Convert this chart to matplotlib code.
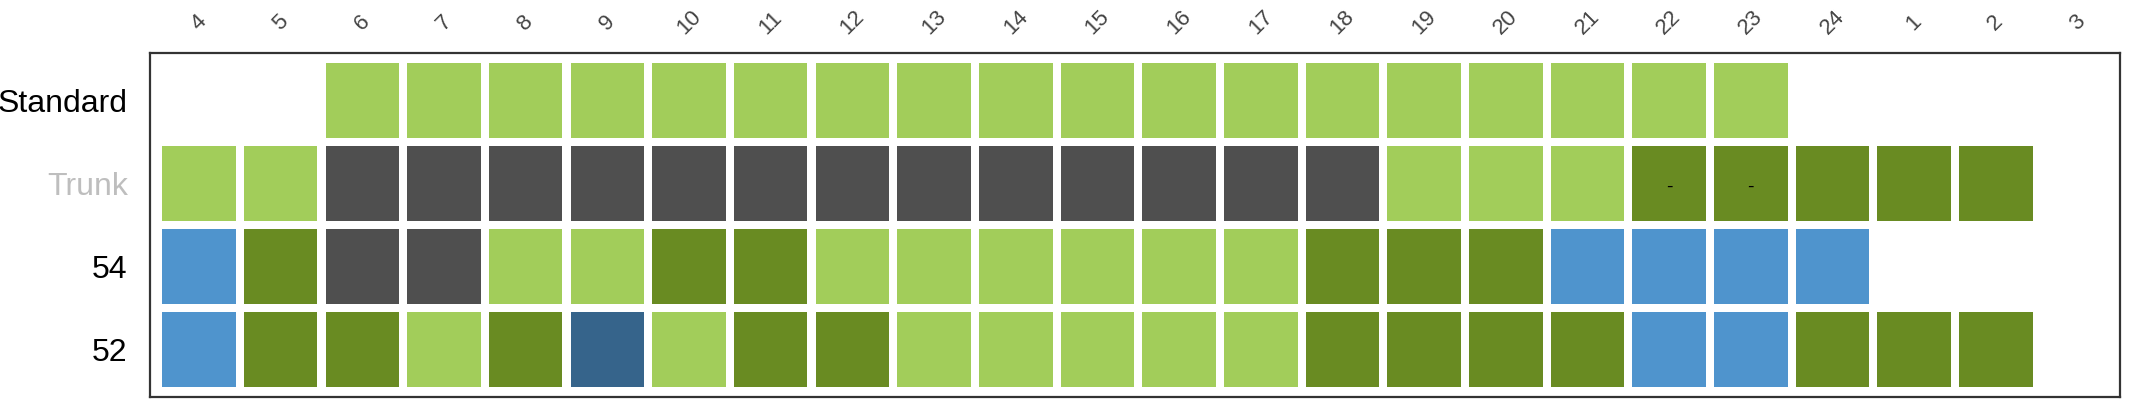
import matplotlib
matplotlib.use("Agg")
import matplotlib.pyplot as plt

# ── data ─────────────────────────────────────────────────────────────────────
hours = ["4", "5", "6", "7", "8", "9", "10", "11", "12", "13", "14", "15",
         "16", "17", "18", "19", "20", "21", "22", "23", "24", "1", "2", "3"]
rows = ["Standard", "Trunk", "54", "52"]

# category codes per cell: L light green, D dark green, G grey, B blue, N navy, None empty
standard = [None, None, "L", "L", "L", "L", "L", "L", "L", "L", "L", "L",
            "L", "L", "L", "L", "L", "L", "L", "L", None, None, None, None]
trunk = ["L", "L", "G", "G", "G", "G", "G", "G", "G", "G", "G", "G",
         "G", "G", "G", "L", "L", "L", "D", "D", "D", "D", "D", None]
r54 = ["B", "D", "G", "G", "L", "L", "D", "D", "L", "L", "L", "L",
       "L", "L", "D", "D", "D", "B", "B", "B", "B", None, None, None]
r52 = ["B", "D", "D", "L", "D", "N", "L", "D", "D", "L", "L", "L",
       "L", "L", "D", "D", "D", "D", "B", "B", "D", "D", "D", None]
trunk_marks = {"22": "-", "23": "-"}

colors = {"L": "#A2CD5A", "D": "#698B22", "G": "#4F4F4F",
          "B": "#4F94CD", "N": "#36648B"}
label_colors = {"Standard": "black", "Trunk": "#BEBEBE", "54": "black", "52": "black"}

grid = [standard, trunk, r54, r52]

# ── figure ───────────────────────────────────────────────────────────────────
plt.rcParams["font.family"] = ["Liberation Sans", "DejaVu Sans"]
fig = plt.figure(figsize=(21.5, 4), dpi=100)
ax = fig.add_axes([150 / 2150, 3 / 400, 1970 / 2150, 344 / 400])

for r, vals in enumerate(grid):
    for c, v in enumerate(vals):
        if v is None:
            continue
        ax.bar(c, 0.9, bottom=r - 0.45, width=0.9, color=colors[v], linewidth=0)

for h, txt in trunk_marks.items():
    ax.text(hours.index(h), 1.05, txt, ha="center", va="center",
            fontsize=14, color="black")

ax.set_xlim(-0.6, 23.52)
ax.set_ylim(3.57, -0.57)

ax.xaxis.tick_top()
ax.set_xticks(range(len(hours)))
ax.set_xticklabels(hours, rotation=45, ha="center", va="center",
                   fontsize=16, color="#444444")
ax.tick_params(axis="x", length=0, pad=22)

ax.set_yticks(range(len(rows)))
ax.set_yticklabels(rows, fontsize=23)
for lbl in ax.get_yticklabels():
    lbl.set_color(label_colors[lbl.get_text()])
ax.tick_params(axis="y", length=0, pad=16)

for spine in ax.spines.values():
    spine.set_color("#333333")
    spine.set_linewidth(1.6)

fig.savefig("out.png", dpi=100, facecolor="white")
